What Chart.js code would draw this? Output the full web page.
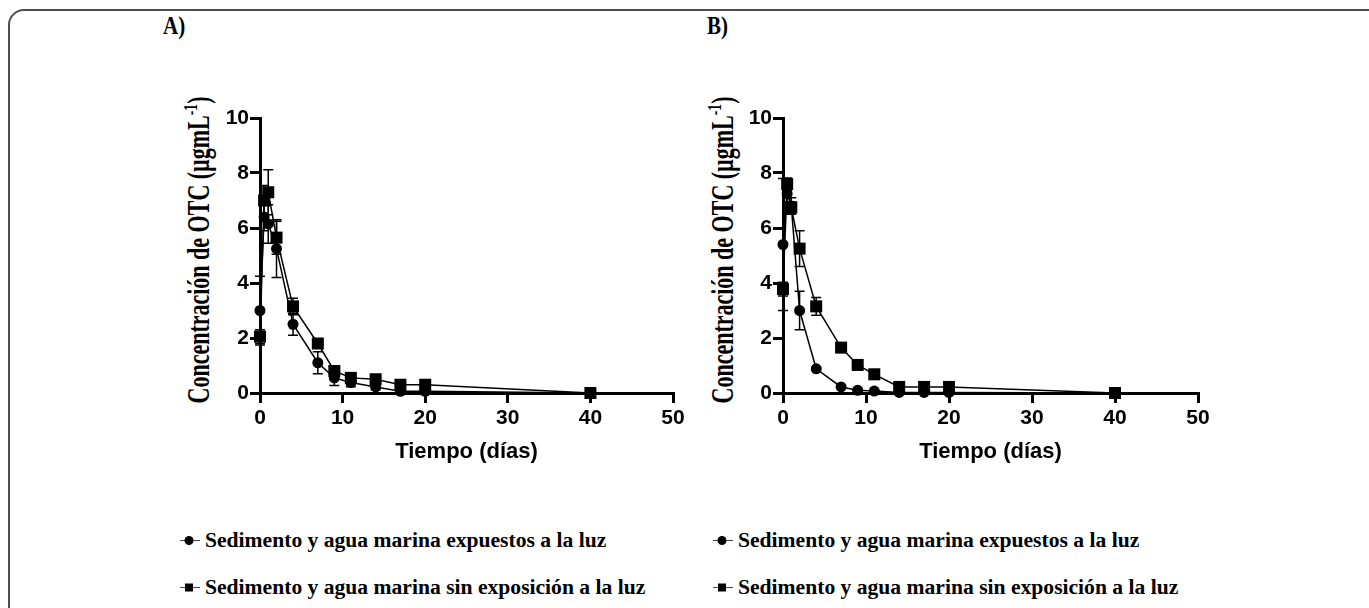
<!DOCTYPE html>
<html>
<head>
<meta charset="utf-8">
<script src="https://cdn.jsdelivr.net/npm/chart.js"></script>
<style>
  body { margin: 0; width: 1369px; height: 608px; background: #fff; overflow: hidden; position: relative; }
  .frame { position: absolute; left: 8px; top: 9px; width: 1420px; height: 620px;
           border: 2px solid #4d4d4d; border-radius: 16px; box-sizing: border-box; }
  .chartBox { position: absolute; top: 60px; width: 540px; height: 420px; }
  .panel { position: absolute; font: bold 21px "Liberation Serif", serif; color: #000; transform: translateY(-50%) scaleY(1.15); }
  .ytitle { position: absolute; font: bold 22px "Liberation Serif", serif; line-height: 24px; color: #000;
            white-space: nowrap; transform: translate(-50%, -50%) rotate(-90deg) scaleY(1.4); }
  .ytitle sup { font-size: 0.62em; line-height: 0; }
  .legend { position: absolute; font: bold 21.6px "Liberation Serif", serif; color: #000; }
  .legend .row { position: absolute; left: 0; white-space: nowrap; display: flex; align-items: center; transform: translateY(-50%); }
  .legend svg { margin-right: 5px; }
</style>
</head>
<body>
<div class="frame"></div>

<div class="panel" style="left:163px; top:27px;">A)</div>
<div class="panel" style="left:707px; top:27px;">B)</div>

<div class="ytitle" style="left:199px; top:250px;">Concentración de OTC (µgmL<sup>-1</sup>)</div>
<div class="ytitle" style="left:723px; top:250px;">Concentración de OTC (µgmL<sup>-1</sup>)</div>

<div class="chartBox" style="left:150px;"><canvas id="chartA" width="540" height="420"></canvas></div>
<div class="chartBox" style="left:673px;"><canvas id="chartB" width="540" height="420"></canvas></div>

<div class="legend" style="left:180px; top:0;">
  <div class="row" style="top:540px;"><svg width="20" height="12"><line x1="0" y1="6" x2="20" y2="6" stroke="#444" stroke-width="1"/><circle cx="9" cy="6" r="4.5" fill="#000"/></svg><span id="legA1"></span></div>
  <div class="row" style="top:587px;"><svg width="20" height="12"><line x1="0" y1="6" x2="20" y2="6" stroke="#444" stroke-width="1"/><rect x="5" y="2" width="8" height="8" fill="#000"/></svg><span id="legA2"></span></div>
</div>
<div class="legend" style="left:713px; top:0;">
  <div class="row" style="top:540px;"><svg width="20" height="12"><line x1="0" y1="6" x2="20" y2="6" stroke="#444" stroke-width="1"/><circle cx="9" cy="6" r="4.5" fill="#000"/></svg><span id="legB1"></span></div>
  <div class="row" style="top:587px;"><svg width="20" height="12"><line x1="0" y1="6" x2="20" y2="6" stroke="#444" stroke-width="1"/><rect x="5" y="2" width="8" height="8" fill="#000"/></svg><span id="legB2"></span></div>
</div>

<script>
// sampling times (days)
const days = [0, 0.5, 1, 2, 4, 7, 9, 11, 14, 17, 20, 40];

const seriesNames = [
    'Sedimento y agua marina expuestos a la luz',
    'Sedimento y agua marina sin exposición a la luz'
];

// Panel A
const aLight = [3.0, 6.4, 6.15, 5.25, 2.5, 1.1, 0.55, 0.38, 0.22, 0.06, 0.06, 0];
const aLightSd = [1.25, 0.5, 0.7, 1.05, 0.4, 0.4, 0.28, 0.15, 0.1, 0.05, 0.05, 0];
const aDark = [2.05, 7.0, 7.3, 5.65, 3.15, 1.8, 0.8, 0.55, 0.5, 0.3, 0.3, 0];
const aDarkSd = [0.25, 0.55, 0.82, 0.6, 0.3, 0.15, 0.15, 0.1, 0.1, 0.05, 0.05, 0];

// Panel B
const bLight = [5.4, 7.25, 6.8, 3.0, 0.88, 0.22, 0.1, 0.07, 0.02, 0.02, 0.02, 0];
const bLightSd = [2.4, 0.3, 0.3, 0.7, 0.05, 0.03, 0.02, 0.02, 0, 0, 0, 0];
const bDark = [3.78, 7.6, 6.75, 5.25, 3.15, 1.65, 1.02, 0.68, 0.22, 0.22, 0.22, 0];
const bDarkSd = [0.25, 0.22, 0.2, 0.65, 0.32, 0.08, 0.06, 0.05, 0.03, 0.03, 0.03, 0];

const xTicks = [0, 10, 20, 30, 40, 50];
const yTicks = [0, 2, 4, 6, 8, 10];

document.getElementById('legA1').textContent = seriesNames[0];
document.getElementById('legA2').textContent = seriesNames[1];
document.getElementById('legB1').textContent = seriesNames[0];
document.getElementById('legB2').textContent = seriesNames[1];

// draws mean +/- SD whiskers under the markers
const errorBars = {
    id: 'errorBars',
    beforeDatasetsDraw(chart) {
        const { ctx, scales: { x, y } } = chart;
        ctx.save();
        ctx.strokeStyle = '#000';
        ctx.lineWidth = 1.5;
        chart.data.datasets.forEach(ds => {
            ds.data.forEach((p, i) => {
                const sd = ds.errors[i];
                if (!sd) return;
                const px = x.getPixelForValue(p.x);
                const top = y.getPixelForValue(p.y + sd);
                const bot = y.getPixelForValue(Math.max(p.y - sd, 0));
                ctx.beginPath();
                ctx.moveTo(px, top); ctx.lineTo(px, bot);
                ctx.moveTo(px - 5, top); ctx.lineTo(px + 5, top);
                ctx.moveTo(px - 5, bot); ctx.lineTo(px + 5, bot);
                ctx.stroke();
            });
        });
        ctx.restore();
    }
};

function series(vals, sd, style, order) {
    return {
        data: days.map((d, i) => ({ x: d, y: vals[i] })),
        errors: sd,
        borderColor: '#000',
        backgroundColor: '#000',
        borderWidth: 1.5,
        pointStyle: style,
        pointRadius: style === 'rect' ? 8.5 : 5.5,
        pointBorderWidth: 0,
        clip: false,
        order: order
    };
}

const tickFont = { family: 'Liberation Sans', weight: 'bold', size: 21 };

function makeChart(id, light, lightSd, dark, darkSd, rightPad) {
    return new Chart(document.getElementById(id), {
        type: 'line',
        data: {
            datasets: [
                series(light, lightSd, 'circle', 1),
                series(dark, darkSd, 'rect', 0)
            ]
        },
        options: {
            responsive: false,
            animation: false,
            layout: { padding: { left: 0, top: 58, right: rightPad, bottom: 10 } },
            plugins: { legend: { display: false }, tooltip: { enabled: false } },
            scales: {
                x: {
                    type: 'linear',
                    min: 0, max: 50,
                    afterBuildTicks: s => { s.ticks = xTicks.map(v => ({ value: v })); },
                    afterFit: s => { s.height = 77; },
                    border: { color: '#000', width: 3 },
                    grid: { drawOnChartArea: false, color: '#000', lineWidth: 3, tickLength: 10 },
                    ticks: { color: '#000', font: tickFont, padding: 3, maxRotation: 0 },
                    title: {
                        display: true, text: 'Tiempo (días)', color: '#000',
                        font: { family: 'Liberation Sans', weight: 'bold', size: 22 },
                        padding: { top: 0, bottom: 5 }
                    }
                },
                y: {
                    type: 'linear',
                    min: 0, max: 10,
                    afterBuildTicks: s => { s.ticks = yTicks.map(v => ({ value: v })); },
                    afterFit: s => { s.width = 110; },
                    border: { color: '#000', width: 3 },
                    grid: { drawOnChartArea: false, color: '#000', lineWidth: 3, tickLength: 10 },
                    ticks: { color: '#000', font: tickFont, padding: 1 }
                }
            }
        },
        plugins: [errorBars]
    });
}

makeChart('chartA', aLight, aLightSd, aDark, aDarkSd, 17);
makeChart('chartB', bLight, bLightSd, bDark, bDarkSd, 15);
</script>
</body>
</html>
